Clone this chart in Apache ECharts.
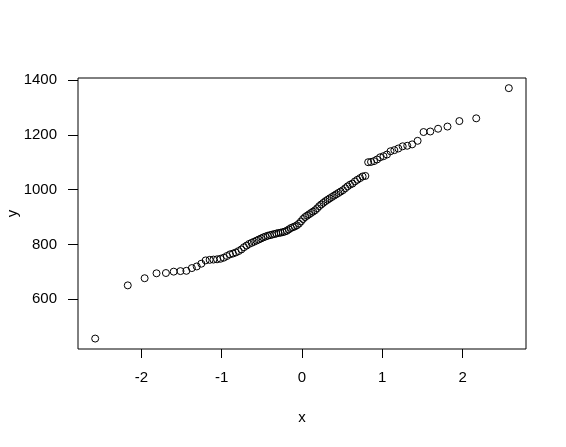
<!DOCTYPE html>
<html>
<head>
<meta charset="utf-8">
<script src="https://cdn.jsdelivr.net/npm/echarts@6/dist/echarts.min.js"></script>
<style>
html,body{margin:0;padding:0;background:#fff;}
#chart{width:566px;height:447px;}
</style>
</head>
<body>
<div id="chart"></div>
<script>
// theoretical quantiles (x)
var xQuantiles = [
-2.576,-2.170,-1.960,-1.812,-1.695,-1.598,-1.514,-1.440,-1.372,-1.311,
-1.254,-1.200,-1.150,-1.103,-1.058,-1.015,-0.974,-0.935,-0.897,-0.860,
-0.824,-0.789,-0.755,-0.723,-0.690,-0.659,-0.628,-0.598,-0.568,-0.539,
-0.510,-0.482,-0.454,-0.426,-0.399,-0.372,-0.345,-0.319,-0.292,-0.266,
-0.240,-0.215,-0.189,-0.164,-0.138,-0.113,-0.088,-0.063,-0.038,-0.013,
0.013,0.038,0.063,0.088,0.113,0.138,0.164,0.189,0.215,0.240,
0.266,0.292,0.319,0.345,0.372,0.399,0.426,0.454,0.482,0.510,
0.539,0.568,0.598,0.628,0.659,0.690,0.723,0.755,0.789,0.824,
0.860,0.897,0.935,0.974,1.015,1.058,1.103,1.150,1.200,1.254,
1.311,1.372,1.440,1.514,1.598,1.695,1.812,1.960,2.170,2.576
];
// sample values (y), sorted
var yValues = [
457,651,677,695,696,701,703,704,714,720,
730,742,744,745,746,748,752,758,764,767,
771,776,782,790,796,802,806,810,814,818,
822,826,829,832,834,836,838,840,842,843,
845,847,850,855,860,863,866,870,876,884,
893,900,905,910,915,920,925,932,940,946,
952,958,963,968,973,978,983,988,993,998,
1005,1012,1018,1022,1030,1036,1042,1048,1050,1100,
1101,1104,1110,1118,1122,1128,1140,1144,1150,1158,
1160,1165,1178,1210,1212,1222,1230,1250,1260,1370
];
var xTicks = [-2,-1,0,1,2];
var yTicks = [600,800,1000,1200,1400];

var pts = xQuantiles.map(function(x,i){return [x,yValues[i]];});
var font = '"Liberation Sans", Arial, Helvetica, sans-serif';
var chart = echarts.init(document.getElementById('chart'), null, {renderer:'canvas'});
chart.setOption({
  animation:false,
  backgroundColor:'#ffffff',
  grid:{left:78,right:40,top:78,bottom:98,containLabel:false,outerBoundsMode:'none',
        show:true,borderColor:'#000',borderWidth:1,backgroundColor:'transparent'},
  xAxis:{
    type:'value',min:-2.79,max:2.79,
    name:'x',nameLocation:'middle',nameGap:61,nameMoveOverlap:false,
    nameTextStyle:{color:'#000',fontFamily:font,fontSize:15},
    axisLine:{show:false,onZero:false},
    axisTick:{show:true,length:9,customValues:xTicks,lineStyle:{color:'#000'}},
    axisLabel:{customValues:xTicks,color:'#000',fontFamily:font,fontSize:15,margin:21,
               formatter:function(v){return String(v);}},
    splitLine:{show:false}
  },
  yAxis:{
    type:'value',min:419,max:1407,
    name:'y',nameLocation:'middle',nameGap:58,nameRotate:90,nameMoveOverlap:false,
    nameTextStyle:{color:'#000',fontFamily:font,fontSize:15},
    axisLine:{show:false,onZero:false},
    axisTick:{show:true,length:10,customValues:yTicks,lineStyle:{color:'#000'}},
    axisLabel:{customValues:yTicks,color:'#000',fontFamily:font,fontSize:15,margin:21,
               formatter:function(v){return String(v);}},
    splitLine:{show:false}
  },
  series:[{
    type:'scatter',
    data:pts,
    symbol:'circle',
    symbolSize:7,
    itemStyle:{color:'rgba(0,0,0,0)',borderColor:'#000',borderWidth:1,opacity:1}
  }]
});
</script>
</body>
</html>
